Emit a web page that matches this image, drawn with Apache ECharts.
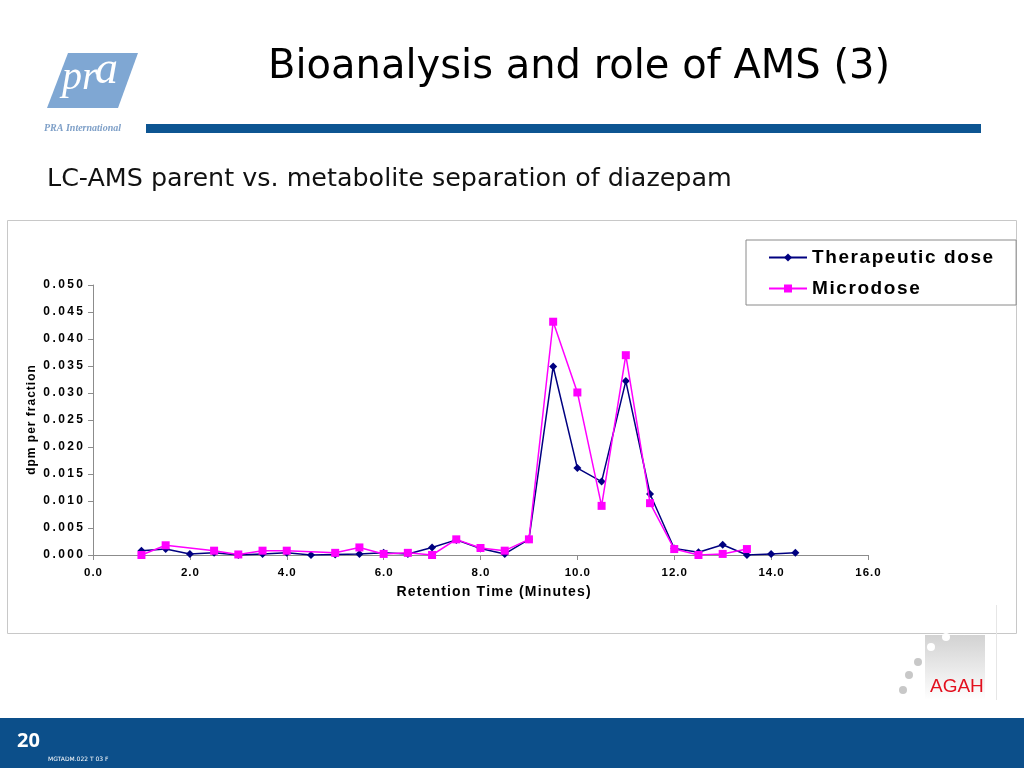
<!DOCTYPE html>
<html>
<head>
<meta charset="utf-8">
<script src="https://cdn.jsdelivr.net/npm/echarts@6/dist/echarts.min.js"></script>
<style>
html,body{margin:0;padding:0;background:#fff;}
#c{width:1024px;height:768px;}
</style>
</head>
<body>
<div id="c"></div>
<script>
const retentionTimes = [1.0,1.5,2.0,2.5,3.0,3.5,4.0,4.5,5.0,5.5,6.0,6.5,7.0,7.5,8.0,8.5,9.0,9.5,10.0,10.5,11.0,11.5,12.0,12.5,13.0,13.5,14.0,14.5];
const therapeuticDose = [0.0008,0.0011,0.0002,0.0004,0.0000,0.0002,0.0004,0.0000,0.0001,0.0002,0.0004,0.0002,0.0014,0.0028,0.0012,0.0002,0.0029,0.0349,0.0161,0.0136,0.0322,0.0113,0.0012,0.0005,0.0019,0.0000,0.0002,0.0004];
const microdose = [0.0000,0.0018,null,0.0008,0.0001,0.0008,0.0008,null,0.0004,0.0014,0.0002,0.0004,0.0000,0.0029,0.0013,0.0008,0.0029,0.0432,0.0301,0.0091,0.0370,0.0096,0.0011,0.0000,0.0002,0.0011,null,null];
const seriesNames = ['Therapeutic dose','Microdose'];
const xTicks = {min:0, max:16, interval:2};
const yTicks = {min:0, max:0.05, interval:0.005};

function pairs(vals){
  const out=[];
  retentionTimes.forEach((x,i)=>{ if(vals[i]!==null && vals[i]!==undefined) out.push([x,vals[i]]); });
  return out;
}
function spaced(s, sep){ return s.split('').join(sep); }
const THIN = '\u2009';
const HAIR = '\u200A';

const chart = echarts.init(document.getElementById('c'));
const F = '"Liberation Sans", Arial, sans-serif';
chart.setOption({
  animation:false,
  backgroundColor:'#fff',
  graphic:[
    {type:'rect',shape:{x:7.5,y:220.5,width:1009,height:413},style:{fill:'#fff',stroke:'#c8c8c8',lineWidth:1},z:-10},
    {type:'polygon',shape:{points:[[68,53],[138,53],[118,108],[47,108]]},style:{fill:'#7fa7d3'}},
    {type:'text',left:62,top:58,style:{text:'pr',font:'italic 40px "Liberation Serif", serif',fill:'#fff'}},
    {type:'text',left:95,top:48,style:{text:'a',font:'italic 46px "Liberation Serif", serif',fill:'#fff'}},
    {type:'text',left:44,top:123,style:{text:'PRA International',font:'italic bold 10px "Liberation Serif", serif',fill:'#7fa0c8'}},
    {type:'rect',shape:{x:146,y:124,width:835,height:9},style:{fill:'#0d5592'}},
    {type:'text',left:268,top:48,style:{text:'Bioanalysis and role of AMS (3)',font:'40px "DejaVu Sans", sans-serif',fill:'#000'}},
    {type:'text',left:47,top:167,style:{text:'LC-AMS parent vs. metabolite separation of diazepam',font:'25.4px "DejaVu Sans", sans-serif',fill:'#111'}},
    {type:'rect',shape:{x:925,y:635,width:60,height:65},style:{fill:new echarts.graphic.LinearGradient(0,0,0,1,[{offset:0,color:'#d2d2d2'},{offset:1,color:'#ffffff'}])}},
    {type:'line',shape:{x1:996.5,y1:605,x2:996.5,y2:700},style:{stroke:'#e6e6e6',lineWidth:1}},
    {type:'circle',shape:{cx:946,cy:637,r:4},style:{fill:'#fff'}},
    {type:'circle',shape:{cx:931,cy:647,r:4},style:{fill:'#fff'}},
    {type:'circle',shape:{cx:918,cy:662,r:4},style:{fill:'#c8c8c8'}},
    {type:'circle',shape:{cx:909,cy:675,r:4},style:{fill:'#c8c8c8'}},
    {type:'circle',shape:{cx:903,cy:690,r:4},style:{fill:'#c8c8c8'}},
    {type:'text',left:930,top:677,style:{text:'AGAH',font:'19px "Liberation Sans", Arial, sans-serif',fill:'#e3101e'}},
    {type:'rect',shape:{x:0,y:718,width:1024,height:50},style:{fill:'#0c4f8a'}},
    {type:'text',left:17,top:731,style:{text:'20',font:'bold 20px "Open Sans", sans-serif',fill:'#fff'}},
    {type:'text',left:48,top:756,style:{text:'MGTADM.022 T 03 F',font:'6px "DejaVu Sans", sans-serif',fill:'#fff'}}
  ],
  legend:{
    left:746, top:240,
    orient:'vertical',
    data:seriesNames,
    backgroundColor:'#fff',
    borderColor:'#8a8a8a', borderWidth:1,
    padding:[8,23,7,22],
    itemWidth:38, itemHeight:10, itemGap:12,
    formatter:n=>spaced(n, HAIR),
    textStyle:{fontFamily:F,fontWeight:'bold',fontSize:19,color:'#000'}
  },
  grid:{left:93,right:156,top:285,bottom:213,containLabel:false},
  xAxis:{
    type:'value', min:xTicks.min, max:xTicks.max, interval:xTicks.interval,
    name:spaced('Retention Time (Minutes)', HAIR), nameLocation:'middle', nameGap:30,
    nameMoveOverlap:false,
    nameTextStyle:{fontFamily:F,fontWeight:'bold',fontSize:14,color:'#000',padding:[0,0,0,26]},
    axisLine:{show:true,onZero:false,lineStyle:{color:'#8c8c8c'}},
    axisTick:{show:true,length:5,lineStyle:{color:'#8c8c8c'}},
    splitLine:{show:false},
    axisLabel:{formatter:v=>spaced(v.toFixed(1), HAIR),fontFamily:F,fontWeight:'bold',fontSize:11.5,color:'#000',margin:12}
  },
  yAxis:{
    type:'value', min:yTicks.min, max:yTicks.max, interval:yTicks.interval,
    name:spaced('dpm per fraction', HAIR), nameLocation:'middle', nameGap:55, nameRotate:90,
    nameMoveOverlap:false,
    nameTextStyle:{fontFamily:F,fontWeight:'bold',fontSize:12,color:'#000'},
    axisLine:{show:true,lineStyle:{color:'#8c8c8c'}},
    axisTick:{show:true,length:5,lineStyle:{color:'#8c8c8c'}},
    splitLine:{show:false},
    axisLabel:{formatter:v=>spaced(v.toFixed(3), THIN),fontFamily:F,fontWeight:'bold',fontSize:12,color:'#000',margin:10}
  },
  series:[
    {name:seriesNames[0],type:'line',data:pairs(therapeuticDose),symbol:'diamond',symbolSize:8,
     itemStyle:{color:'#000080'},lineStyle:{color:'#000080',width:1.5},z:2},
    {name:seriesNames[1],type:'line',data:pairs(microdose),symbol:'rect',symbolSize:8,
     itemStyle:{color:'#ff00ff'},lineStyle:{color:'#ff00ff',width:1.5},z:3}
  ]
});
</script>
</body>
</html>
